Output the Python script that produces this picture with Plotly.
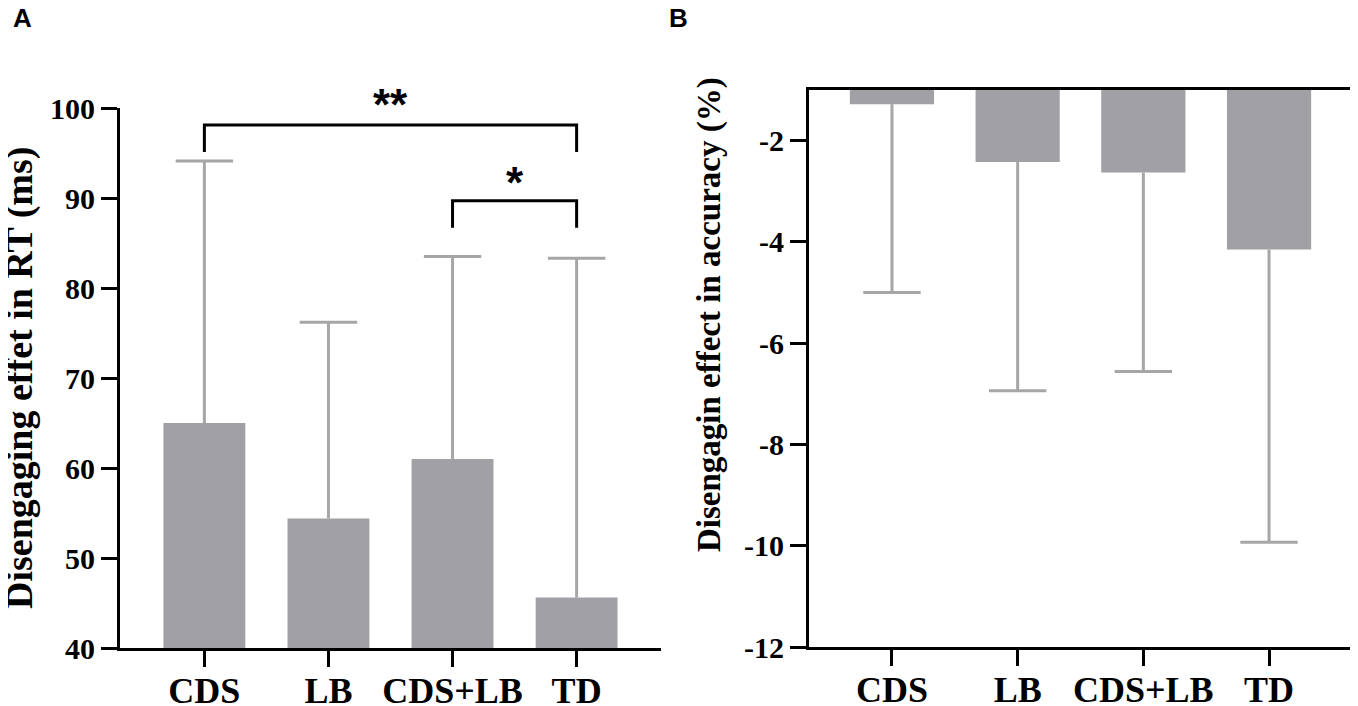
import plotly.graph_objects as go
from plotly.subplots import make_subplots

# categories shared by both panels
groups = ["CDS", "LB", "CDS+LB", "TD"]

# panel A: disengaging effect in RT (ms), bar means and upper error bar ends
rt_mean = [65.0, 54.4, 61.0, 45.6]
rt_err_top = [94.1, 76.2, 83.5, 83.3]

# panel A significance brackets: (from, to), bracket height, leg bottom, star height, label
sig_pairs = [("CDS", "TD"), ("CDS+LB", "TD")]
sig_top = [98.1, 89.7]
sig_leg = [95.1, 86.7]
sig_star_y = [100.4, 91.7]
sig_labels = ["**", "*"]

# panel B: disengaging effect in accuracy (%), bar means and lower error bar ends
acc_mean = [-1.28, -2.42, -2.63, -4.15]
acc_err_bottom = [-5.0, -6.94, -6.56, -9.93]

rt_ticks = [40, 50, 60, 70, 80, 90, 100]
acc_ticks = [-12, -10, -8, -6, -4, -2]

RT_RANGE = [40, 100]
ACC_RANGE = [-12, -1]

# the page body adds an 8px margin, so the figure is laid out 8px up/left
W, H, OFF = 1350, 698, 8


def fx(px):
    return (px - OFF) / W


def fy(py):
    return 1 - (py - OFF) / H


RT_DOMAIN = [fy(648), fy(108)]
ACC_DOMAIN = [fy(647), fy(90)]

BAR_COLOR = "#a1a1a5"
ERR_COLOR = "#a6a6a8"
SERIF = "Times New Roman, Liberation Serif, serif"
SANS = "Arial, Liberation Sans, sans-serif"

fig = make_subplots(rows=1, cols=2)


def add_panel(mean, err_end, width, col):
    fig.add_trace(
        go.Bar(
            x=groups,
            y=mean,
            width=width,
            marker=dict(color=BAR_COLOR, line=dict(width=0)),
            showlegend=False,
        ),
        row=1,
        col=col,
    )
    # error whisker from bar end, no cap at the bar side
    up = [max(e - m, 0) for e, m in zip(err_end, mean)]
    down = [max(m - e, 0) for e, m in zip(err_end, mean)]
    fig.add_trace(
        go.Scatter(
            x=groups,
            y=mean,
            mode="markers",
            marker=dict(size=1, opacity=0),
            error_y=dict(type="data", symmetric=False, array=up, arrayminus=down,
                         color=ERR_COLOR, thickness=3, width=0),
            hoverinfo="skip",
            showlegend=False,
        ),
        row=1,
        col=col,
    )
    # caps at the whisker end
    fig.add_trace(
        go.Scatter(
            x=groups,
            y=err_end,
            mode="markers",
            marker=dict(symbol="line-ew", size=41, line=dict(color=ERR_COLOR, width=3)),
            hoverinfo="skip",
            showlegend=False,
        ),
        row=1,
        col=col,
    )


add_panel(rt_mean, rt_err_top, 0.66, 1)
add_panel(acc_mean, acc_err_bottom, 0.67, 2)


def rt_to_paper(v):
    return RT_DOMAIN[0] + (v - RT_RANGE[0]) / (RT_RANGE[1] - RT_RANGE[0]) * (RT_DOMAIN[1] - RT_DOMAIN[0])


# significance brackets
for (a, b), top, leg, star_y, lab in zip(sig_pairs, sig_top, sig_leg, sig_star_y, sig_labels):
    fig.add_trace(
        go.Scatter(
            x=[a, a, b, b],
            y=[leg, top, top, leg],
            mode="lines",
            line=dict(color="black", width=3),
            hoverinfo="skip",
            showlegend=False,
            cliponaxis=False,
        ),
        row=1,
        col=1,
    )
    ia, ib = groups.index(a), groups.index(b)
    fig.add_annotation(
        x=(ia + ib) / 2,
        y=rt_to_paper(star_y),
        xref="x",
        yref="paper",
        text=lab,
        showarrow=False,
        font=dict(family=SANS, size=44, color="black", weight="bold"),
        yanchor="middle",
    )

fig.update_xaxes(
    type="category",
    automargin=False,
    showline=True,
    linecolor="black",
    linewidth=3,
    ticks="outside",
    ticklen=16,
    tickwidth=3,
    tickcolor="black",
    tickfont=dict(family=SERIF, size=36, color="black", weight="bold"),
    ticklabelstandoff=-7,
    showgrid=False,
    zeroline=False,
)
fig.update_xaxes(domain=[fx(120), fx(661)], range=[-0.68, 3.68], row=1, col=1)
fig.update_xaxes(domain=[fx(809), fx(1352)], range=[-0.66, 3.66], mirror=True, row=1, col=2)

fig.update_yaxes(
    automargin=False,
    showline=True,
    linecolor="black",
    linewidth=3,
    ticks="outside",
    ticklen=16,
    tickwidth=3,
    tickcolor="black",
    tickfont=dict(family=SERIF, size=30, color="black", weight="bold"),
    showgrid=False,
    zeroline=False,
)
fig.update_yaxes(
    domain=RT_DOMAIN, range=RT_RANGE, tickvals=rt_ticks,
    ticktext=[str(v) for v in rt_ticks], row=1, col=1,
)
fig.update_yaxes(
    domain=ACC_DOMAIN, range=ACC_RANGE, tickvals=acc_ticks,
    ticktext=[str(v) for v in acc_ticks], row=1, col=2,
)

fig.add_annotation(
    x=fx(19), y=fy(378), xref="paper", yref="paper",
    text="Disengaging effet in RT (ms)", textangle=-90,
    showarrow=False, font=dict(family=SERIF, size=38, color="black", weight="bold"),
    xanchor="center", yanchor="middle",
)
fig.add_annotation(
    x=fx(709), y=fy(315), xref="paper", yref="paper",
    text="Disengagin effect in accuracy (%)", textangle=-90,
    showarrow=False, font=dict(family=SERIF, size=33, color="black", weight="bold"),
    xanchor="center", yanchor="middle",
)

# panel letters
for lab, px_x in [("A", 22), ("B", 678)]:
    fig.add_annotation(
        x=fx(px_x), y=fy(18), xref="paper", yref="paper",
        text=lab, showarrow=False,
        font=dict(family=SANS, size=26, color="black", weight="bold"),
        xanchor="center", yanchor="middle",
    )

fig.update_layout(
    width=W,
    height=H,
    margin=dict(l=0, r=0, t=0, b=0),
    plot_bgcolor="white",
    paper_bgcolor="white",
    font=dict(family=SERIF, color="black"),
)

fig.write_html("out.html")
